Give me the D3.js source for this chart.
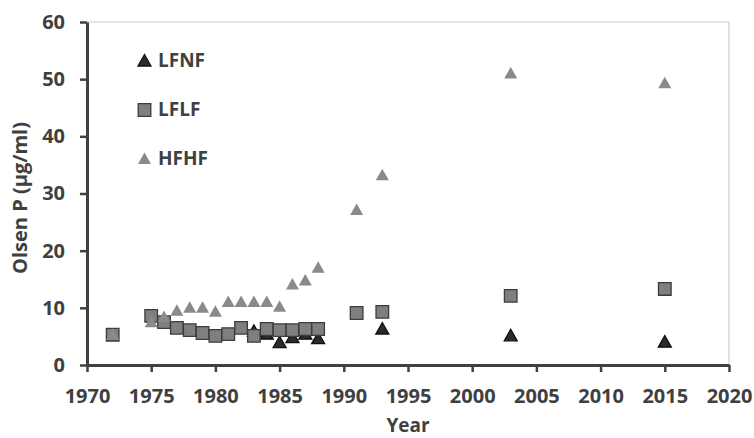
<!DOCTYPE html>
<html>
<head>
<meta charset="utf-8">
<script src="https://cdn.jsdelivr.net/npm/d3@7"></script>
<style>
  body { margin: 0; background: #fff; }
  text { font-family: "Open Sans", Lato, sans-serif; font-weight: 700; fill: #404040; }
</style>
</head>
<body>
<div id="chart"></div>
<script>
const width = 754, height = 438;
const margin = ({top: 22, right: 25, bottom: 73, left: 87});

// series values
const lfnfYears = [1983, 1984, 1985, 1986, 1987, 1988, 1993, 2003, 2015];
const lfnfP     = [5.9, 5.4, 3.9, 4.8, 5.4, 4.6, 6.3, 5.1, 4.0];

const lflfYears = [1972, 1975, 1976, 1977, 1978, 1979, 1980, 1981, 1982, 1983, 1984, 1985, 1986, 1987, 1988, 1991, 1993, 2003, 2015];
const lflfP     = [5.3, 8.6, 7.5, 6.5, 6.1, 5.6, 5.1, 5.4, 6.5, 5.1, 6.3, 6.1, 6.1, 6.3, 6.3, 9.1, 9.3, 12.1, 13.3];

const hfhfYears = [1972, 1975, 1976, 1977, 1978, 1979, 1980, 1981, 1982, 1983, 1984, 1985, 1986, 1987, 1988, 1991, 1993, 2003, 2015];
const hfhfP     = [5.3, 7.5, 8.4, 9.5, 10.0, 10.0, 9.3, 11.0, 11.0, 11.0, 11.0, 10.2, 14.1, 14.8, 17.0, 27.1, 33.2, 51.0, 49.3];

const xTicks = d3.range(1970, 2021, 5);
const yTicks = d3.range(0, 61, 10);

const series = [
  {name: "LFNF", years: lfnfYears, vals: lfnfP, shape: "tri", fill: "#2b2b2b", stroke: "#111"},
  {name: "LFLF", years: lflfYears, vals: lflfP, shape: "sq",  fill: "#7f7f7f", stroke: "#3c3c3c"},
  {name: "HFHF", years: hfhfYears, vals: hfhfP, shape: "tri", fill: "#8a8a8a", stroke: "none"}
];

const svg = d3.select("#chart").append("svg")
  .attr("width", width).attr("height", height);

const x = d3.scaleLinear().domain([1970, 2020]).range([margin.left, width - margin.right]);
const y = d3.scaleLinear().domain([0, 60]).range([height - margin.bottom, margin.top]);

// light plot border top/right
svg.append("path")
  .attr("d", "M" + x(1970) + "," + y(60) + "H" + x(2020) + "V" + y(0))
  .attr("fill", "none").attr("stroke", "#d0d0d0").attr("stroke-width", 1.2);

const triPath = "M0,-6.5L6.5,5L-6.5,5Z";
const sqPath = "M-6.3,-6.3H6.3V6.3H-6.3Z";

series.forEach(s => {
  svg.append("g").selectAll("path")
    .data(s.years.map((yr, i) => [yr, s.vals[i]]))
    .enter().append("path")
      .attr("d", s.shape === "tri" ? triPath : sqPath)
      .attr("transform", d => "translate(" + x(d[0]) + "," + y(d[1]) + ")")
      .attr("fill", s.fill)
      .attr("stroke", s.stroke)
      .attr("stroke-width", 1.3);
});

// axes
const xAxis = svg.append("g")
  .attr("transform", "translate(0," + y(0) + ")")
  .call(d3.axisBottom(x).tickValues(xTicks).tickFormat(d3.format("d")).tickSize(7).tickSizeOuter(0));
const yAxis = svg.append("g")
  .attr("transform", "translate(" + x(1970) + ",0)")
  .call(d3.axisLeft(y).tickValues(yTicks).tickSize(7).tickSizeOuter(0));

[xAxis, yAxis].forEach(a => {
  a.select(".domain").attr("stroke", "#404040").attr("stroke-width", 3);
  a.selectAll(".tick line").attr("stroke", "#404040").attr("stroke-width", 2.5);
  a.selectAll(".tick text").attr("font-size", 20).attr("fill", "#404040");
});
xAxis.selectAll(".tick text").attr("y", 38).attr("dy", 0);
yAxis.selectAll(".tick text").attr("x", -22);

// titles
svg.append("text")
  .attr("x", (x(1970) + x(2020)) / 2).attr("y", 432)
  .attr("text-anchor", "middle").attr("font-size", 19)
  .text("Year");

svg.append("text")
  .attr("transform", "translate(27,198)rotate(-90)")
  .attr("text-anchor", "middle").attr("font-size", 20)
  .text("Olsen P (µg/ml)");

// legend
const legend = svg.append("g").attr("transform", "translate(144.5,61)");
series.forEach((s, i) => {
  const g = legend.append("g").attr("transform", "translate(0," + (i * 49) + ")");
  g.append("path")
    .attr("d", s.shape === "tri" ? triPath : sqPath)
    .attr("fill", s.fill).attr("stroke", s.stroke).attr("stroke-width", 1.3);
  g.append("text")
    .attr("x", 13.5).attr("y", 6)
    .attr("font-size", 19)
    .text(s.name);
});
</script>
</body>
</html>
